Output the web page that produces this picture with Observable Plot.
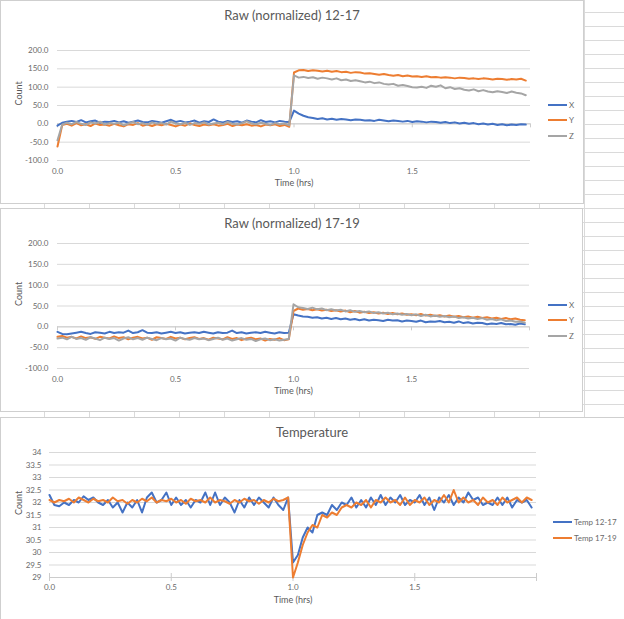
<!DOCTYPE html>
<html><head><meta charset="utf-8">
<script src="https://cdn.jsdelivr.net/npm/d3@7"></script>
<script src="https://cdn.jsdelivr.net/npm/@observablehq/plot@0.6"></script>
<style>
body{margin:0;background:#fff;}
#page{position:relative;width:624px;height:619px;overflow:hidden;background-color:#fff;
 background-image:repeating-linear-gradient(to bottom, transparent 0px, transparent 12px, #dadada 12px, #dadada 13px, transparent 13px, transparent 14px),
 repeating-linear-gradient(to right, transparent 0px, transparent 44px, #dadada 44px, #dadada 45px);}
.panel{position:absolute;background:#fff;border:1px solid #cfcfcf;box-sizing:border-box;overflow:hidden;}
.panel svg{position:absolute;left:0;top:0;}
.title{position:absolute;color:#595959;font-family:Lato,sans-serif;font-size:13px;line-height:14px;white-space:nowrap;transform:translateX(-50%);}
.leg{position:absolute;font-family:Lato,sans-serif;font-size:8px;line-height:8px;color:#6a6a6a;white-space:nowrap;}
.leg span.sw{display:inline-block;width:19px;height:2px;vertical-align:middle;margin-right:2px;position:relative;top:-1px;}
</style></head>
<body><div id="page"></div>
<script>
// ---------- data ----------
const timeStep = 0.02; // hours between samples
const seriesXYZ = ["X", "Y", "Z"];
const seriesTemp = ["Temp 12-17", "Temp 17-19"];
const xTickValues = [0, 0.5, 1, 1.5];
const rawYTicks = [-100, -50, 0, 50, 100, 150, 200];
const tempYTicks = [29, 29.5, 30, 30.5, 31, 31.5, 32, 32.5, 33, 33.5, 34];

const raw1217X = [-5,
 3,6,8,5,10,4,7,9,3,6, 5,8,4,7,3,6,9,5,4,8, 6,3,7,11,5,8,4,6,9,3, 7,5,12,6,4,8,5,7,3,9, 6,4,10,5,7,4,8,6,5,
 36,28,22,18,16,13,15,12,14,11, 13,12,10,12,11,9,10,8,11,9, 7,9,8,6,8,5,7,6,4,6, 5,3,5,2,4,1,3,0,2,-1, 1,-2,0,-3,-1,-4,-2,-3,-1,-2];
const raw1217Y = [-62,
 -3,0,-5,2,-4,-1,-6,1,-3,-2, -5,0,-4,-7,-1,-3,2,-5,-2,-6, -1,-4,0,-3,-7,-2,-5,1,-3,-6, -2,-4,-1,-5,-3,0,-6,-2,-4,-1, -5,-3,-7,-2,-4,-1,-6,-3,-8,
 140,146,147,144,146,145,143,145,142,144, 141,142,139,141,140,137,138,136,134,136, 133,131,133,130,132,129,130,128,130,127, 128,126,127,126,124,126,125,123,124,122, 124,123,121,123,122,120,122,121,123,118];
const raw1217Z = [-45,
 -2,3,-1,5,0,-3,4,1,6,-2, 2,0,3,-4,1,5,-1,2,-3,4, 0,2,-2,6,1,-1,3,-3,2,0, 4,-2,1,3,-1,5,0,-2,2,7, 1,-1,3,0,-3,2,-1,1,-4,
 132,126,128,125,127,123,126,124,121,124, 119,121,117,119,116,113,115,111,113,109, 107,109,104,106,103,100,99,101,98,104, 101,105,97,100,95,97,93,91,94,89, 92,88,86,89,87,84,88,85,83,78];

const raw1719X = [-12,
 -17,-18,-16,-14,-12,-15,-17,-13,-14,-16, -12,-15,-13,-14,-9,-15,-13,-8,-14,-15, -13,-16,-14,-12,-15,-13,-16,-14,-13,-15, -12,-14,-16,-13,-15,-14,-9,-15,-13,-16, -14,-13,-15,-12,-14,-16,-13,-15,-14,
 30,27,25,24,22,23,20,22,19,21, 18,20,17,19,16,18,15,17,16,14, 17,15,16,13,15,14,12,15,11,13, 12,14,11,12,10,13,9,11,8,10, 9,6,8,7,9,6,7,5,8,6];
const raw1719Y = [-24,
 -22,-26,-24,-28,-23,-27,-25,-29,-24,-26, -28,-23,-27,-25,-30,-26,-24,-28,-26,-31, -25,-27,-29,-24,-28,-26,-30,-27,-25,-29, -27,-31,-26,-28,-30,-25,-29,-27,-32,-28, -26,-30,-28,-33,-29,-31,-27,-32,-30,
 38,44,41,43,40,42,39,41,38,40, 37,39,35,38,34,36,33,35,32,34, 31,33,30,32,29,30,28,31,27,29, 26,28,25,27,24,26,23,25,22,24, 21,23,20,22,19,21,18,20,17,16];
const raw1719Z = [-28,
 -26,-30,-24,-29,-27,-31,-25,-28,-32,-26, -29,-27,-33,-28,-25,-30,-27,-31,-26,-29, -32,-27,-30,-28,-33,-26,-29,-31,-27,-30, -28,-32,-29,-26,-31,-28,-33,-30,-27,-31, -29,-34,-30,-28,-32,-30,-33,-31,-29,
 54,47,45,43,46,42,44,40,42,39, 41,37,40,36,38,35,37,33,35,32, 34,30,32,29,31,28,30,26,29,25, 27,24,26,23,25,21,23,20,22,19, 21,17,19,16,18,14,15,12,13,10];

const temp1217 = [32.3,
 31.9,31.85,32.0,31.9,32.1,32.0,32.25,32.1,32.2,32.0, 31.9,32.1,31.8,32.0,31.6,32.0,31.8,32.1,31.6,32.2, 32.4,32.0,32.1,32.4,31.9,32.2,31.9,32.1,31.8,32.1, 32.0,32.4,31.9,32.4,31.9,32.2,32.0,31.6,32.1,31.8, 32.2,31.9,32.2,32.0,31.8,32.2,31.9,31.7,32.2,
 29.6,29.9,30.6,31.0,30.8,31.5,31.6,31.5,31.9,31.7, 32.0,31.9,32.2,31.8,32.1,31.8,32.2,31.9,32.3,31.9, 32.2,32.0,32.3,31.9,32.1,32.0,32.3,31.9,32.2,31.7, 32.2,32.0,32.3,31.9,32.2,32.0,32.4,32.1,32.2,31.9, 32.0,31.9,32.2,31.9,32.2,31.8,32.1,32.0,32.1,31.8];
const temp1719 = [32.1,
 32.0,32.1,32.05,32.15,32.0,32.2,32.1,32.0,32.15,32.05, 32.1,32.0,32.2,32.05,32.1,31.95,32.1,32.0,32.15,32.05, 32.2,32.0,32.1,32.05,32.15,32.0,32.1,31.95,32.15,32.05, 32.1,32.0,32.2,32.0,32.1,32.05,31.95,32.1,32.0,32.15, 32.05,32.1,31.95,32.1,32.0,32.15,32.05,32.1,32.2,
 29.0,29.6,30.3,30.8,31.1,31.0,31.5,31.4,31.6,31.5, 31.8,31.9,31.8,32.0,31.9,32.1,31.8,32.1,32.0,32.2, 32.0,32.1,31.9,32.2,31.9,32.1,32.0,32.2,31.9,32.1, 32.0,32.3,32.0,32.5,32.0,32.2,32.0,32.1,31.9,32.2, 32.0,32.1,31.9,32.2,32.0,32.1,32.2,32.0,32.2,32.1];

const palette = ["#4472C4", "#ED7D31", "#A5A5A5"];

// ---------- helpers ----------
const FONT = "Lato, sans-serif";
const TXT = "#595959";
const TICK = "#6a6a6a";
const GRID = "#d9d9d9";
const AXIS = "#cccccc";
const fmt1 = d => d.toFixed(1).replace("\u2212", "-");

function rows(names, arrays) {
  const out = [];
  names.forEach((n, k) => arrays[k].forEach((v, i) => out.push({s: n, t: +(i * timeStep).toFixed(2), v})));
  return out;
}

const page = document.getElementById("page");
function panel(left, top, w, h) {
  const d = document.createElement("div");
  d.className = "panel";
  Object.assign(d.style, {left: left + "px", top: top + "px", width: w + "px", height: h + "px"});
  page.appendChild(d);
  return d;
}
function title(text, cx, top) {
  const d = document.createElement("div");
  d.className = "title"; d.textContent = text;
  d.style.left = cx + "px"; d.style.top = top + "px";
  page.appendChild(d);
}
function legend(names, colors, left, tops) {
  names.forEach((n, k) => {
    const d = document.createElement("div");
    d.className = "leg";
    d.style.left = left + "px"; d.style.top = (tops[k] - 4) + "px";
    d.innerHTML = `<span class="sw" style="background:${colors[k]}"></span>`;
    d.appendChild(document.createTextNode(n));
    page.appendChild(d);
  });
}

function rawChart(data, m, w, h) {
  const y0tick = (300 / (h - m.top - m.bottom)) * 4; // 4px tick in data units
  return Plot.plot({
    width: w, height: h,
    marginLeft: m.left, marginRight: m.right, marginTop: m.top, marginBottom: m.bottom,
    style: {background: "transparent", fontFamily: FONT, color: TICK, overflow: "visible"},
    x: {domain: [0, 2]},
    y: {domain: [-100, 200]},
    color: {domain: seriesXYZ, range: palette},
    marks: [
      Plot.gridY(rawYTicks, {stroke: GRID, strokeOpacity: 1}),
      Plot.ruleY([0], {stroke: AXIS}),
      Plot.ruleX([0, 0.5, 1, 1.5, 2], {y1: 0, y2: -y0tick, stroke: AXIS}),
      Plot.axisY(rawYTicks, {tickSize: 0, tickPadding: 9, tickFormat: fmt1, fontSize: 8, label: null}),
      Plot.axisX(xTickValues, {tickSize: 0, tickPadding: 8, tickFormat: fmt1, fontSize: 8, label: null}),
      Plot.text(["Count"], {frameAnchor: "left", rotate: -90, dx: -38, fontSize: 9, fill: TXT}),
      Plot.text(["Time (hrs)"], {frameAnchor: "bottom", dy: 25, fontSize: 9, fill: TXT}),
      Plot.line(data, {x: "t", y: "v", z: "s", stroke: "s", strokeWidth: 2, strokeLinejoin: "round", curve: "linear"})
    ]
  });
}

// ---------- chart 1 ----------
const p1 = panel(0, 0, 584, 204);
p1.appendChild(rawChart(rows(seriesXYZ, [raw1217X, raw1217Y, raw1217Z]), {left: 56, right: 53, top: 49, bottom: 43}, 582, 202));
title("Raw (normalized) 12-17", 292, 8);
legend(seriesXYZ, palette, 548, [105, 120, 136]);

// ---------- chart 2 ----------
const p2 = panel(0, 208, 583, 204);
p2.appendChild(rawChart(rows(seriesXYZ, [raw1719X, raw1719Y, raw1719Z]), {left: 56, right: 53, top: 34, bottom: 43}, 581, 202));
title("Raw (normalized) 17-19", 292, 216);
legend(seriesXYZ, palette, 548, [305, 320, 336]);

// ---------- chart 3 ----------
const p3 = panel(0, 417, 660, 220);
const tdata = rows(seriesTemp, [temp1217, temp1719]);
const tTick = (5 / 125) * 4;
p3.appendChild(Plot.plot({
  width: 623, height: 201,
  marginLeft: 48, marginRight: 88, marginTop: 34, marginBottom: 42,
  style: {background: "transparent", fontFamily: FONT, color: TICK, overflow: "visible"},
  x: {domain: [0, 2]},
  y: {domain: [29, 34]},
  color: {domain: seriesTemp, range: palette.slice(0, 2)},
  marks: [
    Plot.gridY(tempYTicks, {stroke: GRID, strokeOpacity: 1}),
    Plot.ruleY([29], {stroke: AXIS}),
    Plot.ruleX([0, 0.5, 1, 1.5, 2], {y1: 29 - tTick, y2: 29 + tTick, stroke: AXIS}),
    Plot.axisY(tempYTicks, {tickSize: 0, tickPadding: 8, tickFormat: d => String(d), fontSize: 8, label: null}),
    Plot.axisX(xTickValues, {tickSize: 0, tickPadding: 7, tickFormat: fmt1, fontSize: 8, label: null}),
    Plot.text(["Count"], {frameAnchor: "left", rotate: -90, dx: -30, fontSize: 9, fill: TXT}),
    Plot.text(["Time (hrs)"], {frameAnchor: "bottom", dy: 25, fontSize: 9, fill: TXT}),
    Plot.line(tdata, {x: "t", y: "v", z: "s", stroke: "s", strokeWidth: 2, strokeLinejoin: "round"})
  ]
}));
title("Temperature", 312, 425);
legend(seriesTemp, palette.slice(0, 2), 553, [522, 538]);
</script>
</body></html>
